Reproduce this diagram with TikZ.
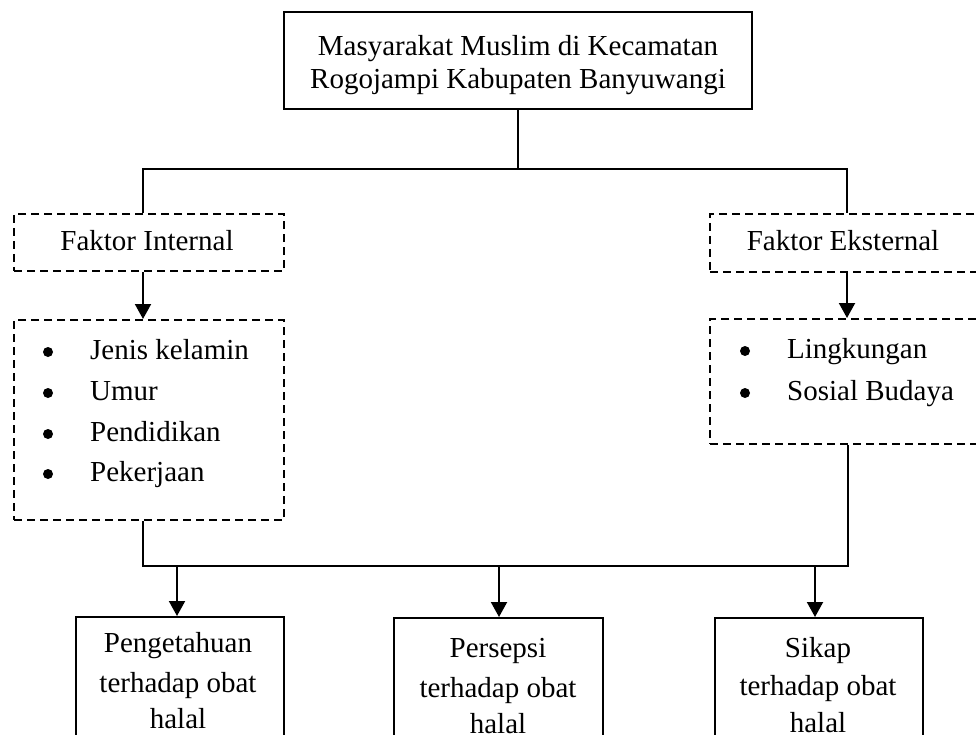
\documentclass[tikz,border=0pt]{standalone}
\usepackage{fontspec}
\setmainfont{Liberation Serif}
\usetikzlibrary{arrows.meta}
\begin{document}
\begin{tikzpicture}[x=1pt,y=-1pt,
  solidbox/.style={draw, line width=2pt, inner sep=0pt, anchor=north west},
  dashbox/.style={draw, line width=2pt, dash pattern=on 8pt off 5pt, inner sep=0pt, anchor=north west},
  txt/.style={inner sep=0pt, anchor=base, font=\fontsize{29}{34}\selectfont},
  txtl/.style={inner sep=0pt, anchor=base west, font=\fontsize{29}{34}\selectfont},
  link/.style={line width=2pt},
  arr/.style={line width=2pt, -{Triangle[width=16pt,length=15pt]}},
  blt/.style={fill=black}]
\useasboundingbox (0,0) rectangle (976,735);
\begin{scope}
\clip (0,0) rectangle (976,735);
% boxes
\node[solidbox, minimum width=468pt, minimum height=97pt] (top) at (283,11) {};
\node[dashbox, minimum width=270pt, minimum height=57pt] (fi) at (13,213) {};
\node[dashbox, minimum width=272pt, minimum height=58pt] (fe) at (709,213) {};
\node[dashbox, minimum width=270pt, minimum height=200pt] (li) at (13,319) {};
\node[dashbox, minimum width=272pt, minimum height=125pt] (le) at (709,318) {};
\node[solidbox, minimum width=208pt, minimum height=135pt] (b1) at (75,616) {};
\node[solidbox, minimum width=209pt, minimum height=135pt] (b2) at (393,617) {};
\node[solidbox, minimum width=208pt, minimum height=135pt] (b3) at (714,617) {};
% texts
\node[txt] (t1) at (518,56) {Masyarakat Muslim di Kecamatan};
\node[txt] (t2) at (518,89) {Rogojampi Kabupaten Banyuwangi};
\node[txt] (tfi) at (147,251) {Faktor Internal};
\node[txt] (tfe) at (843,251) {Faktor Eksternal};
\node[txtl] (l1) at (90,359) {Jenis kelamin};
\node[txtl] (l2) at (90,400) {Umur};
\node[txtl] (l3) at (90,441) {Pendidikan};
\node[txtl] (l4) at (90,481) {Pekerjaan};
\node[txtl] (r1) at (787,358) {Lingkungan};
\node[txtl] (r2) at (787,400) {Sosial Budaya};
\foreach \yy/\nm in {359/bl1,400/bl2,441/bl3,481/bl4} {
  \coordinate (\nm) at (48,\yy-7);
  \fill[blt] (\nm) circle (5pt);
}
\foreach \yy/\nm in {358/br1,400/br2} {
  \coordinate (\nm) at (745,\yy-7);
  \fill[blt] (\nm) circle (5pt);
}
\node[txt] (p1) at (178,652) {Pengetahuan};
\node[txt] (p2) at (178,692) {terhadap obat};
\node[txt] (p3) at (178,728) {halal};
\node[txt] (q1) at (498,657) {Persepsi};
\node[txt] (q2) at (498,697) {terhadap obat};
\node[txt] (q3) at (498,733) {halal};
\node[txt] (s1) at (818,657) {Sikap};
\node[txt] (s2) at (818,695) {terhadap obat};
\node[txt] (s3) at (818,732) {halal};
% connectors
\coordinate (jl) at (143,169);
\coordinate (jr) at (847,169);
\draw[link] (top.south) -- (top.south |- jl);
\draw[link] (jl |- fi.north) -- (jl) -- (jr) -- (jr |- fe.north);
\draw[arr] (jl |- fi.south) -- (jl |- li.north);
\draw[arr] (jr |- fe.south) -- (jr |- le.north);
\coordinate (kl) at (143,566);
\coordinate (kr) at (848,566);
\draw[link] (kl |- li.south) -- (kl) -- (kr) -- (kr |- le.south);
\coordinate (a1) at (177,566);
\coordinate (a2) at (499,566);
\coordinate (a3) at (815,566);
\draw[arr] (a1) -- (a1 |- b1.north);
\draw[arr] (a2) -- (a2 |- b2.north);
\draw[arr] (a3) -- (a3 |- b3.north);
\end{scope}
\end{tikzpicture}
\end{document}
